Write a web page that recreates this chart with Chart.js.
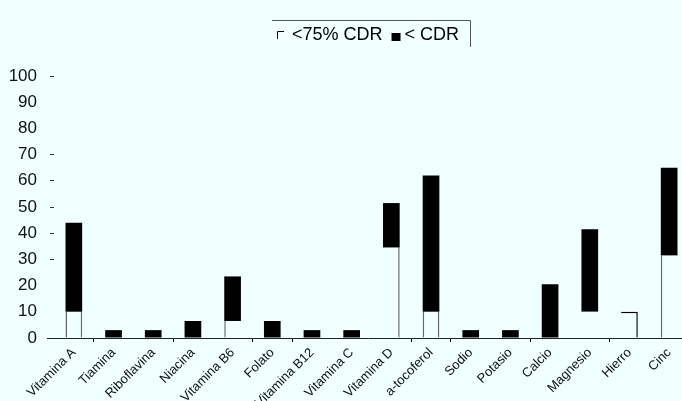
<!DOCTYPE html>
<html>
<head>
<meta charset="utf-8">
<script src="https://cdn.jsdelivr.net/npm/chart.js@4"></script>
<style>
  html, body { margin: 0; padding: 0; background: #f0ffff; overflow: hidden; }
  #wrap { width: 682px; height: 401px; overflow: hidden; }
</style>
</head>
<body>
<div id="wrap"><canvas id="cdrChart" width="690" height="401"></canvas></div>
<script>
const categorias = ['Vitamina A', 'Tiamina', 'Riboflavina', 'Niacina', 'Vitamina B6', 'Folato',
    'Vitamina B12', 'Vitamina C', 'Vitamina D', 'a-tocoferol', 'Sodio', 'Potasio',
    'Calcio', 'Magnesio', 'Hierro', 'Cinc'];
// % por debajo del 75% de la CDR (tramo blanco)
const bajo75 = [10, 0, 0, 0, 6.5, 0, 0, 0, 34.5, 10, 0, 0, 0, 10, 10, 31.5];
// % adicional por debajo de la CDR (tramo negro)
const bajoCDR = [34, 3, 3, 6.5, 17, 6.5, 3, 3, 17, 52, 3, 3, 20.5, 31.5, 0, 33.5];
const etiquetasY = [0, 10, 20, 30, 40, 50, 60, 70, 80, 90, 100];
const leyenda = ['<75% CDR', '< CDR'];

// which y ticks / x boundaries show a small tick mark in the original
const marcasY = [30, 40, 50, 60, 70, 100];
const marcasX = [1, 3, 5, 6, 9, 10, 12, 14];

// outline pieces of the white segments (the scan only kept some of them)
const bordesBlanco = [
    { left: 1.5, right: 1.5 }, 0, 0, 0, { left: 1.5 }, 0, 0, 0,
    { right: 1.5 }, { left: 1.5, right: 1.5 }, 0, 0, 0, 0, { top: 1.5, right: 1.5 }, { left: 1.5 }
];

const FONT = '"Liberation Sans", Arial, Helvetica, sans-serif';

const extras = {
    id: 'extras',
    afterDraw(chart) {
        const c = chart.ctx;
        const area = chart.chartArea;
        c.save();
        // x axis baseline
        c.strokeStyle = '#222';
        c.lineWidth = 1;
        c.beginPath();
        c.moveTo(47, area.bottom + 0.5);
        c.lineTo(chart.width, area.bottom + 0.5);
        c.stroke();

        // legend frame
        c.strokeStyle = '#555';
        c.beginPath();
        c.moveTo(272, 20.5);
        c.lineTo(470.5, 20.5);
        c.lineTo(470.5, 47);
        c.stroke();

        // white symbol
        c.strokeStyle = '#000';
        c.beginPath();
        c.moveTo(277.5, 39);
        c.lineTo(277.5, 31.5);
        c.lineTo(284, 31.5);
        c.stroke();

        c.fillStyle = '#000';
        c.font = '18px ' + FONT;
        c.textBaseline = 'alphabetic';
        let x = 292;
        c.fillText(leyenda[0], x, 39.5);
        x += c.measureText(leyenda[0]).width + 9;
        c.fillRect(x, 33, 9, 8);
        x += 13;
        c.fillText(leyenda[1], x, 39.5);
        c.restore();
    }
};

new Chart(document.getElementById('cdrChart'), {
    type: 'bar',
    data: {
        labels: categorias,
        datasets: [{
            label: leyenda[0],
            data: bajo75,
            backgroundColor: '#f0ffff',
            borderColor: ctx => ctx.dataIndex === 14 ? '#000' : '#666',
            borderWidth: ctx => bordesBlanco[ctx.dataIndex] || 0,
            borderSkipped: false,
            categoryPercentage: 1,
            barPercentage: 0.42
        }, {
            label: leyenda[1],
            data: bajoCDR,
            backgroundColor: '#000',
            borderWidth: 0,
            categoryPercentage: 1,
            barPercentage: 0.42
        }]
    },
    options: {
        responsive: false,
        animation: false,
        layout: { padding: { top: 76, right: 1, left: 0, bottom: 0 } },
        plugins: {
            legend: { display: false },
            tooltip: { enabled: false }
        },
        scales: {
            x: {
                stacked: true,
                border: { display: false },
                grid: {
                    drawOnChartArea: false,
                    tickLength: 4,
                    tickColor: ctx => marcasX.includes(ctx.index) ? '#000' : 'rgba(0,0,0,0)'
                },
                ticks: {
                    color: '#111',
                    font: { family: FONT, size: 13 },
                    minRotation: 45,
                    maxRotation: 45,
                    padding: 3,
                    autoSkip: false
                },
                afterFit: scale => { scale.height = 63; }
            },
            y: {
                stacked: true,
                min: 0,
                max: 100,
                border: { display: false },
                grid: {
                    drawOnChartArea: false,
                    tickLength: 4,
                    tickColor: ctx => marcasY.includes(ctx.tick.value) ? '#333' : 'rgba(0,0,0,0)'
                },
                afterBuildTicks: scale => { scale.ticks = etiquetasY.map(v => ({ value: v })); },
                ticks: {
                    color: '#111',
                    font: { family: FONT, size: 17 },
                    padding: 13
                },
                afterFit: scale => { scale.width = 54; }
            }
        }
    },
    plugins: [extras]
});
</script>
</body>
</html>
